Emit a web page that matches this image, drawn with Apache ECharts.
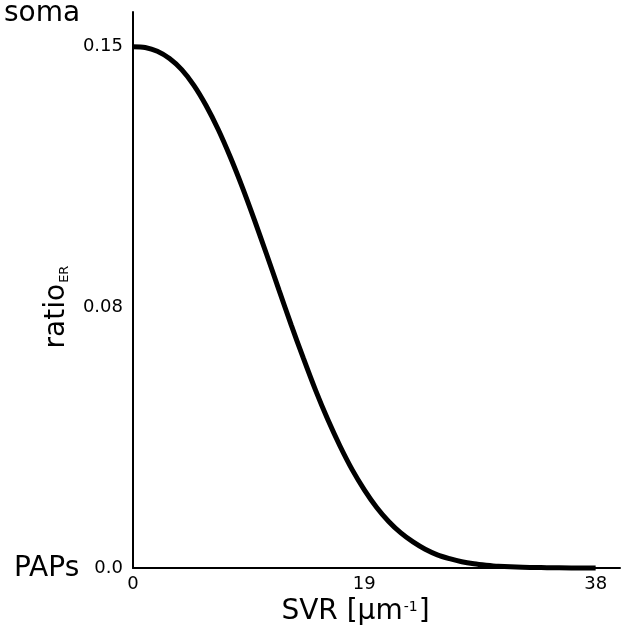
<!DOCTYPE html>
<html>
<head>
<meta charset="utf-8">
<script src="https://cdn.jsdelivr.net/npm/echarts@6/dist/echarts.min.js"></script>
<style>
html,body{margin:0;padding:0;background:#fff;}
#chart{width:625px;height:632px;}
</style>
</head>
<body>
<div id="chart"></div>
<script>
// Data
var svr = [0, 1, 2, 3, 4, 5, 6, 7, 8, 9, 10, 11, 12, 13, 14, 15, 16, 17, 18, 19, 20, 21, 22, 23, 24, 25, 26, 27, 28, 29, 30, 32, 34, 36, 38];
var ratioER = [0.1500, 0.1498, 0.1487, 0.1466, 0.1434, 0.1389, 0.1331, 0.1262, 0.1182, 0.1094, 0.0999, 0.0900, 0.0799, 0.0699, 0.0603, 0.0511, 0.0427, 0.0351, 0.0283, 0.0225, 0.0175, 0.0134, 0.0101, 0.0075, 0.0054, 0.0038, 0.0027, 0.0018, 0.0012, 0.0008, 0.0005, 0.0002, 0.0001, 0.00003, 0.0];
var xTickValues = [0, 19, 38];
var xTickLabels = ['0', '19', '38'];
var yTickValues = [0, 0.075, 0.15];
var yTickLabels = ['0.0', '0.08', '0.15'];

var points = svr.map(function (x, i) { return [x, ratioER[i]]; });
var FONT = 'DejaVu Sans';

var chart = echarts.init(document.getElementById('chart'), null, {renderer: 'canvas'});
chart.setOption({
  animation: false,
  backgroundColor: '#ffffff',
  grid: {left: 133, right: 5, top: 12, bottom: 64, containLabel: false},
  xAxis: {
    type: 'value', min: 0, max: 40,
    axisLine: {show: true, lineStyle: {color: '#000', width: 2}},
    axisTick: {show: false},
    splitLine: {show: false},
    axisLabel: {
      customValues: xTickValues,
      formatter: function (v) { var i = xTickValues.indexOf(v); return i >= 0 ? xTickLabels[i] : ''; },
      color: '#000', fontFamily: FONT, fontSize: 18, margin: 7
    },
    name: '{a|SVR [µm}{s|-1}{a|]}', nameLocation: 'middle', nameGap: 26,
    nameTextStyle: {
      color: '#000', fontFamily: FONT, fontSize: 28, padding: [0, 42, 0, 0],
      rich: {
        a: {fontFamily: FONT, fontSize: 28, color: '#000', verticalAlign: 'top', lineHeight: 34},
        s: {fontFamily: FONT, fontSize: 14, color: '#000', verticalAlign: 'top', lineHeight: 34, padding: [2, 1, 0, 1]}
      }
    }
  },
  yAxis: {
    type: 'value', min: 0, max: 0.16,
    axisLine: {show: true, lineStyle: {color: '#000', width: 2}},
    axisTick: {show: false},
    splitLine: {show: false},
    axisLabel: {
      customValues: yTickValues,
      formatter: function (v) {
        for (var i = 0; i < yTickValues.length; i++) { if (Math.abs(yTickValues[i] - v) < 1e-9) return yTickLabels[i]; }
        return '';
      },
      color: '#000', fontFamily: FONT, fontSize: 18, margin: 10
    },
    name: '{a|ratio}{b|ER}', nameLocation: 'middle', nameGap: 62, nameRotate: 90,
    nameTextStyle: {
      color: '#000', fontFamily: FONT, padding: [0, 34, 0, 0],
      rich: {
        a: {fontFamily: FONT, fontSize: 28, color: '#000', verticalAlign: 'bottom'},
        b: {fontFamily: FONT, fontSize: 13, color: '#000', verticalAlign: 'bottom', padding: [0, 0, 0, 1]}
      }
    }
  },
  graphic: [
    {type: 'text', left: 4, top: 0, style: {text: 'soma', fontFamily: FONT, fontSize: 28, fill: '#000'}},
    {type: 'text', left: 14, top: 555, style: {text: 'PAPs', fontFamily: FONT, fontSize: 28, fill: '#000'}}
  ],
  series: [{
    type: 'line', data: points, smooth: 0.3, showSymbol: false,
    lineStyle: {color: '#000', width: 5},
    clip: false
  }]
});
</script>
</body>
</html>
